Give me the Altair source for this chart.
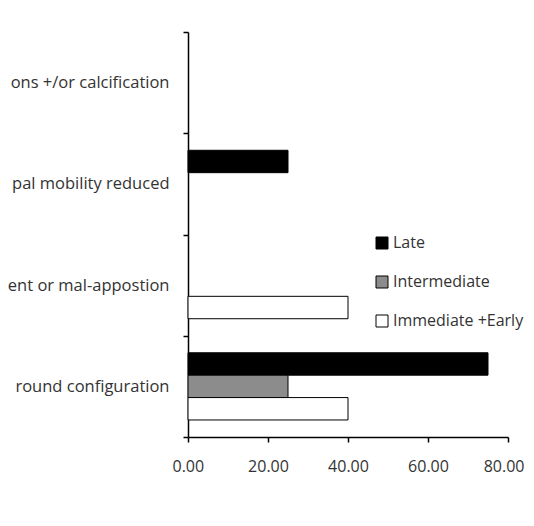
import altair as alt
import pandas as pd

categories = ["ons +/or calcification", "pal mobility reduced", "ent or mal-appostion", "round configuration"]
series = ["Late", "Intermediate", "Immediate +Early"]
late = [0, 25, 0, 75]
intermediate = [0, 0, 0, 25]
immediate_early = [0, 0, 40, 40]
x_ticks = [0, 20, 40, 60, 80]
colors = ["#000000", "#8c8c8c", "#ffffff"]

rows = []
for s, vals in zip(series, [late, intermediate, immediate_early]):
    for c, v in zip(categories, vals):
        rows.append({"category": c, "series": s, "value": v})
df = pd.DataFrame(rows)

font = "Open Sans"
text_color = "#333333"

chart = alt.Chart(df).transform_filter("datum.value > 0").mark_bar(
    stroke="black", strokeWidth=1
).encode(
    y=alt.Y(
        "category:N",
        sort=categories,
        scale=alt.Scale(domain=categories, paddingInner=0, paddingOuter=0),
        axis=alt.Axis(
            title=None, tickBand="extent", labelPadding=14, tickSize=5,
            domainColor="black", tickColor="black", domainWidth=1.5, tickWidth=1.5,
            labelLimit=400, labelFontSize=16.5, labelColor=text_color, labelFont=font,
        ),
    ),
    x=alt.X(
        "value:Q",
        scale=alt.Scale(domain=[0, 80], nice=False),
        axis=alt.Axis(
            values=x_ticks, format=".2f", title=None, grid=False, tickSize=5,
            labelPadding=16, labelFlush=True, labelFlushOffset=16,
            domainColor="black", tickColor="black", domainWidth=1.5, tickWidth=1.5,
            labelFontSize=16, labelColor=text_color, labelFont=font,
        ),
    ),
    yOffset=alt.YOffset(
        "series:N", sort=series,
        scale=alt.Scale(domain=series, paddingOuter=0.76, paddingInner=0),
    ),
    fill=alt.Fill(
        "series:N",
        scale=alt.Scale(domain=series, range=colors),
        legend=alt.Legend(
            title=None, orient="none", legendX=186, legendY=203, padding=0,
            symbolType="square", symbolSize=144, symbolStrokeColor="black", symbolStrokeWidth=1,
            labelFontSize=16, labelFont=font, labelColor=text_color, rowPadding=23,
            labelOffset=3, labelLimit=400,
        ),
    ),
).properties(
    width=320,
    height=405,
    autosize=alt.AutoSizeParams(type="none"),
    padding={"left": 180, "top": 24, "right": 18, "bottom": 60},
).configure_view(stroke=None)

chart.save("out.html", embed_options={"renderer": "svg", "actions": False})
